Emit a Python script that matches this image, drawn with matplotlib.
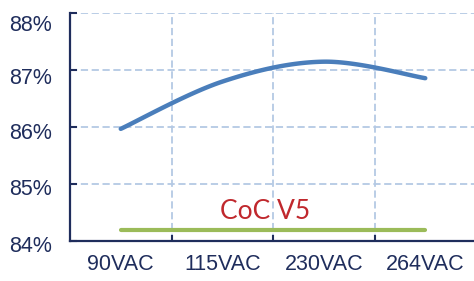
import matplotlib
matplotlib.use('Agg')
import matplotlib.pyplot as plt
import matplotlib.transforms as transforms
import numpy as np

# data
labels = ['90VAC', '115VAC', '230VAC', '264VAC']
efficiency = [85.97, 86.80, 87.15, 86.86]
coc_limit = [84.2, 84.2, 84.2, 84.2]
coc_label = 'CoC V5'
yticks = [84, 85, 86, 87, 88]
ytick_labels = ['84%', '85%', '86%', '87%', '88%']

navy = '#1F2D5C'
grid_col = '#B4C9E4'


def smooth(xs, ys, n=40):
    # Excel-like smoothed line: cubic bezier through the points
    xs = np.asarray(xs, float)
    ys = np.asarray(ys, float)
    px = np.concatenate([[xs[0]], xs, [xs[-1]]])
    py = np.concatenate([[ys[0]], ys, [ys[-1]]])
    outx, outy = [], []
    t = np.linspace(0, 1, n)
    for i in range(1, len(px) - 2):
        p0 = np.array([px[i], py[i]])
        p3 = np.array([px[i + 1], py[i + 1]])
        p1 = p0 + (p3 - np.array([px[i - 1], py[i - 1]])) / 6
        p2 = p3 - (np.array([px[i + 2], py[i + 2]]) - p0) / 6
        b = ((1 - t) ** 3)[:, None] * p0 + (3 * (1 - t) ** 2 * t)[:, None] * p1 \
            + (3 * (1 - t) * t ** 2)[:, None] * p2 + (t ** 3)[:, None] * p3
        outx.extend(b[:, 0])
        outy.extend(b[:, 1])
    return outx, outy


fig = plt.figure(figsize=(4.74, 2.81), dpi=100)
ax = fig.add_axes([70 / 474, 1 - 241 / 281, 1 - 70 / 474, (241 - 13.3) / 281])

x = np.arange(len(labels))
sx, sy = smooth(x, efficiency)
ax.plot(sx, sy, color='#4A7EBB', lw=3.2, solid_capstyle='round', zorder=3)
ax.plot(x, coc_limit, color='#9BBB59', lw=3, solid_capstyle='round', zorder=3)
ax.text(1.42, 84.52, coc_label, color='#C0282D', fontsize=19, family='Lato',
        ha='center', va='center', zorder=4)

ax.set_xlim(-0.5, 3.48)
ax.set_ylim(84, 88)
ax.set_yticks(yticks)
ax.set_yticklabels(ytick_labels)
ax.set_xticks(x)
ax.set_xticklabels(labels)
ax.set_xticks([0.5, 1.5, 2.5], minor=True)

for v in yticks[1:]:
    ax.axhline(v, color=grid_col, lw=1.3, ls=(0, (4, 2)), zorder=1)
for v in [0.5, 1.5, 2.5]:
    ax.axvline(v, color=grid_col, lw=1.3, ls=(0, (4, 2)), zorder=1)

for s in ['top', 'right']:
    ax.spines[s].set_visible(False)
for s in ['left', 'bottom']:
    ax.spines[s].set_color(navy)
    ax.spines[s].set_linewidth(1.6)
    ax.spines[s].set_zorder(5)

ax.tick_params(axis='y', direction='in', length=5, width=1.5, color=navy,
               labelcolor=navy, labelsize=15.5, pad=13)
ax.tick_params(axis='x', which='major', length=0, labelcolor=navy,
               labelsize=15.5, pad=9.5)
ax.tick_params(axis='x', which='minor', direction='in', length=4, width=1.5,
               color=navy)
for lab in ax.get_xticklabels() + ax.get_yticklabels():
    lab.set_family('Liberation Sans')

# the y labels in the reference sit a little below their gridlines
shifts = [2.6, 2.7, 3.7, 6, 10]
for lab, s in zip(ax.get_yticklabels(), shifts):
    lab.set_transform(lab.get_transform() +
                      transforms.ScaledTranslation(0, -s / 100, fig.dpi_scale_trans))

fig.savefig('out.png', dpi=100)
